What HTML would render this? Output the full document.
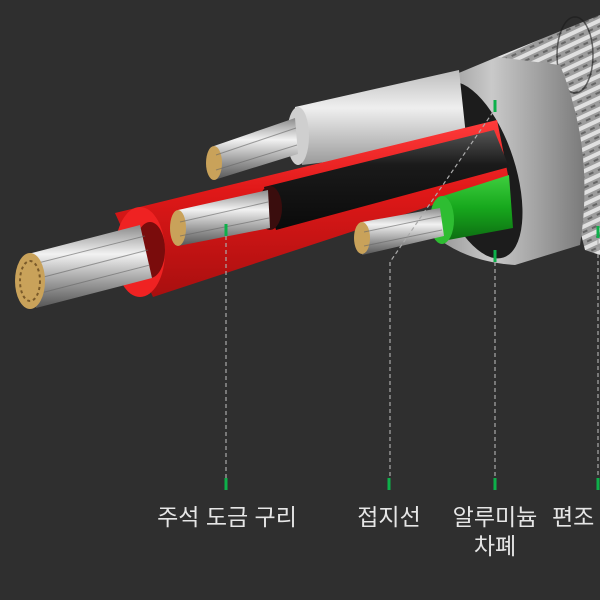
<!DOCTYPE html>
<html><head><meta charset="utf-8"><style>
html,body{margin:0;padding:0;background:#2f2f2f;}
svg{display:block}
text{font-family:"Liberation Sans","Noto Sans CJK KR","NanumGothic",sans-serif;fill:#e6e6e6;font-size:23px;}
</style></head><body>
<svg width="600" height="600" viewBox="0 0 600 600" xmlns="http://www.w3.org/2000/svg">
<defs>
<linearGradient id="silv" x1="0" y1="0" x2="0" y2="1">
<stop offset="0" stop-color="#8a8a8a"/><stop offset=".35" stop-color="#f2f2f2"/><stop offset=".7" stop-color="#9a9a9a"/><stop offset="1" stop-color="#555"/></linearGradient>
<linearGradient id="red" x1="0" y1="0" x2="0" y2="1">
<stop offset="0" stop-color="#ff3b3b"/><stop offset=".4" stop-color="#e01818"/><stop offset="1" stop-color="#a80f0f"/></linearGradient>
<linearGradient id="blk" x1="0" y1="0" x2="0" y2="1">
<stop offset="0" stop-color="#555"/><stop offset=".35" stop-color="#1a1a1a"/><stop offset="1" stop-color="#0a0a0a"/></linearGradient>
<linearGradient id="wht" x1="0" y1="0" x2="0" y2="1">
<stop offset="0" stop-color="#bdbdbd"/><stop offset=".4" stop-color="#efefef"/><stop offset="1" stop-color="#9a9a9a"/></linearGradient>
<linearGradient id="grn" x1="0" y1="0" x2="0" y2="1">
<stop offset="0" stop-color="#3fcf3f"/><stop offset=".5" stop-color="#17a81d"/><stop offset="1" stop-color="#0d6e12"/></linearGradient>
<linearGradient id="foil" x1="0" y1="0" x2="1" y2="0">
<stop offset="0" stop-color="#8f8f8f"/><stop offset=".4" stop-color="#c9c9c9"/><stop offset="1" stop-color="#7a7a7a"/></linearGradient>
<pattern id="braid" width="10" height="10" patternUnits="userSpaceOnUse" patternTransform="rotate(-25)">
<rect width="10" height="10" fill="#9c9c9c"/><rect width="10" height="4" fill="#e0e0e0"/><rect x="0" y="6" width="5" height="2" fill="#666"/></pattern>
</defs>
<rect width="600" height="600" fill="#2f2f2f"/>
<polygon points="497,57 600,15 600,255 585,250 560,150" fill="url(#braid)"/>
<ellipse cx="575" cy="55" rx="18" ry="38" fill="none" stroke="#1a1a1a" stroke-width="1.5" opacity=".6"/>
<path d="M430,85 L497,57 L560,65 Q595,150 580,245 L515,265 Q470,262 440,240 Z" fill="url(#foil)"/>
<ellipse cx="475" cy="170" rx="40" ry="92" fill="#1c1c1c" transform="rotate(-18 475 170)"/>
<polygon points="295,107 459,70 467,145 302,165" fill="url(#wht)"/>
<ellipse cx="298" cy="136" rx="11" ry="29" fill="#cfcfcf"/>
<polygon points="214,146 295,118 298,154 214,180" fill="url(#silv)"/>
<ellipse cx="214" cy="163" rx="8" ry="17" fill="#c9a25a"/>
<polygon points="115,213 497,120 509,180 153,297" fill="url(#red)"/>
<polygon points="264,187 494,130 509,167 276,230" fill="url(#blk)"/>
<ellipse cx="270" cy="208" rx="12" ry="22" fill="#3a0d0d"/>
<polygon points="178,210 268,190 270,228 178,246" fill="url(#silv)"/>
<ellipse cx="178" cy="228" rx="8" ry="18" fill="#c9a25a"/>
<polygon points="440,197 509,175 513,228 448,240" fill="url(#grn)"/>
<ellipse cx="442" cy="220" rx="12" ry="24" fill="#2ebd32"/>
<polygon points="362,222 440,208 444,236 362,255" fill="url(#silv)"/>
<ellipse cx="362" cy="238" rx="8" ry="16" fill="#c9a25a"/>
<ellipse cx="140" cy="252" rx="25" ry="45" fill="#ef2222"/>
<ellipse cx="150" cy="250" rx="15" ry="28" fill="#7a0c0c"/>
<polygon points="28,254 140,225 152,278 36,308" fill="url(#silv)"/>
<g stroke="#666" stroke-width="1" opacity=".6">
<line x1="30" y1="265" x2="145" y2="236"/><line x1="32" y1="280" x2="148" y2="250"/><line x1="33" y1="295" x2="150" y2="265"/>
<line x1="216" y1="155" x2="296" y2="128"/><line x1="216" y1="170" x2="297" y2="145"/>
<line x1="180" y1="222" x2="268" y2="202"/><line x1="180" y1="236" x2="269" y2="218"/>
<line x1="364" y1="232" x2="441" y2="216"/><line x1="364" y1="246" x2="442" y2="230"/>
</g>
<ellipse cx="30" cy="281" rx="15" ry="28" fill="#c9a25a"/>
<ellipse cx="30" cy="281" rx="10" ry="20" fill="none" stroke="#7a5a2a" stroke-width="2" stroke-dasharray="3 3"/>
<g stroke="#aaa" stroke-width="1.2" stroke-dasharray="4 3" fill="none">
<line x1="226" y1="236" x2="226" y2="478"/>
<polyline points="493,112 390,262 390,478"/>
<line x1="495" y1="262" x2="495" y2="478"/>
<line x1="598" y1="240" x2="598" y2="478"/>
</g>
<g fill="#0db04a">
<rect x="224.5" y="224" width="3" height="12"/>
<rect x="493.5" y="100" width="3" height="12"/>
<rect x="493.5" y="250" width="3" height="12"/>
<rect x="596.5" y="226" width="3" height="12"/>
<rect x="224.5" y="478" width="3" height="12"/>
<rect x="387.5" y="478" width="3" height="12"/>
<rect x="493.5" y="478" width="3" height="12"/>
<rect x="596.5" y="478" width="3" height="12"/>
</g>
<text x="227" y="525" text-anchor="middle">주석 도금 구리</text>
<text x="389" y="525" text-anchor="middle">접지선</text>
<text x="495" y="525" text-anchor="middle">알루미늄</text>
<text x="495" y="554" text-anchor="middle">차폐</text>
<text x="552" y="525">편조</text>
</svg>
</body></html>
